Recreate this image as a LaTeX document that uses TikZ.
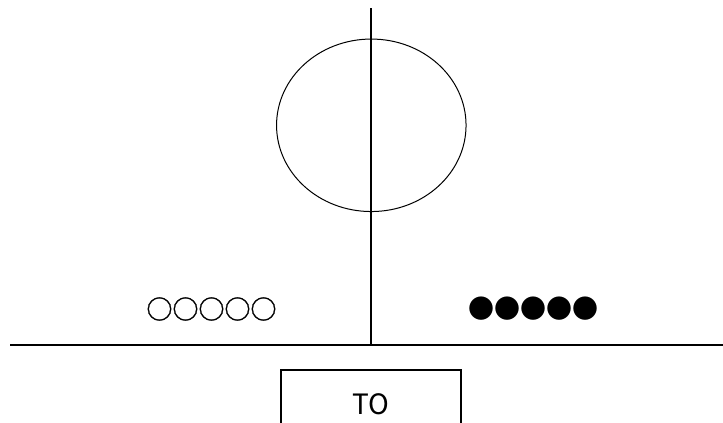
\documentclass[tikz,border=0pt]{standalone}
\usepackage{fontspec}
\usetikzlibrary{shapes.geometric}
\newfontfamily\kr{Noto Sans CJK KR}
\newfontfamily\krb[FakeBold=1.2]{Noto Sans CJK KR}
\begin{document}
\begin{tikzpicture}[x=1pt,y=-1pt,
  thick line/.style={line width=2.8pt},
  thin line/.style={line width=1pt},
  lbl/.style={font=\kr\fontsize{26}{30}\selectfont, inner sep=0pt, text=black}]
\useasboundingbox (0,0) rectangle (723,423);
\coordinate (vtop) at (371,8);
\coordinate (hl) at (10,345);
\coordinate (hr) at (723,345);
\coordinate (vbot) at (371,345);
\node[draw, thin line, ellipse, minimum width=189.5pt, minimum height=172.5pt, inner sep=0pt] (oval) at (371.3,125.3) {};
\draw[thick line] (vtop) -- (vbot);
\draw[thick line] (hl) -- (hr);
\node[lbl, font=\krb\fontsize{26}{30}\selectfont] (white) at (211.5,309) {○○○○○};
\node[lbl] (black) at (533,309) {●●●●●};
\node[draw, thick line, rectangle, minimum width=180pt, minimum height=69pt, lbl, font=\kr\fontsize{28}{32}\selectfont] (to) at (371,404.5) {TO};
\end{tikzpicture}
\end{document}
